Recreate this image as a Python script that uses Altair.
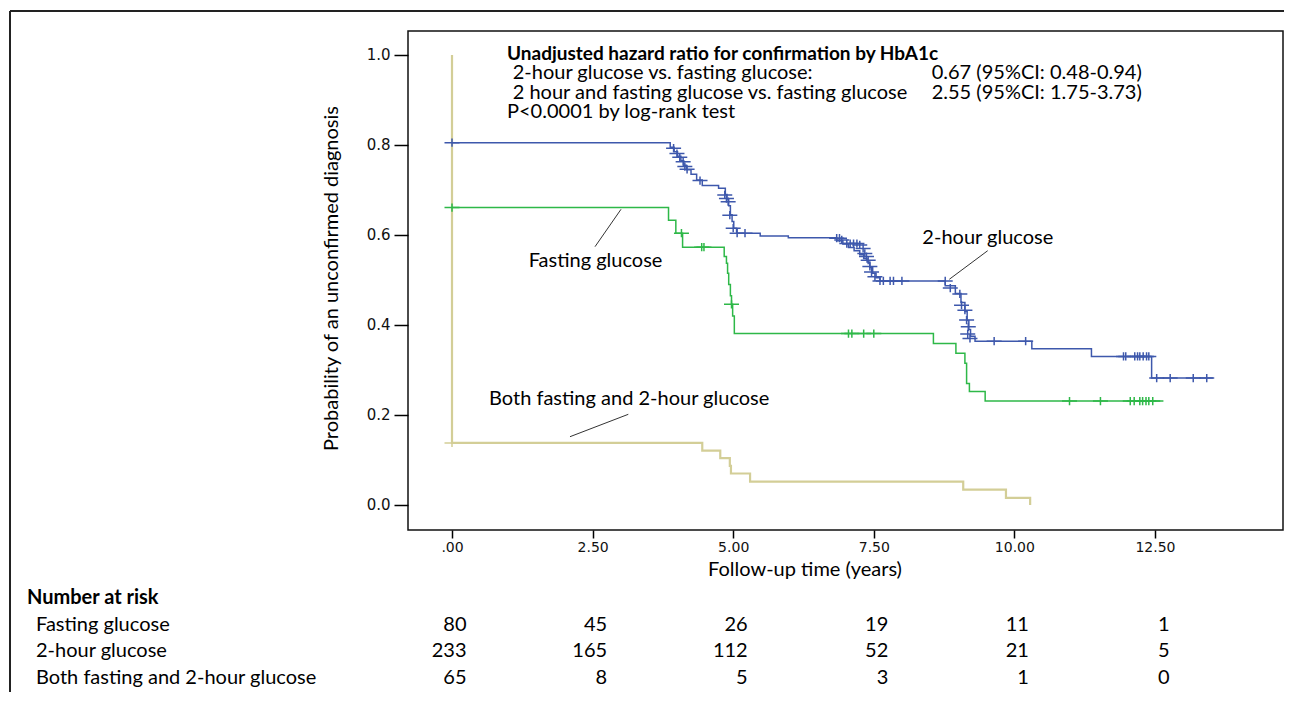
import altair as alt
import pandas as pd

# ---------------- data ----------------
# Kaplan-Meier step points (time in years, probability of unconfirmed diagnosis)
fasting_time = [0, 3.85, 3.98, 4.10, 4.84, 4.88, 4.90, 4.92, 4.95, 4.97, 4.99, 5.02,
                8.56, 8.96, 9.12, 9.15, 9.20, 9.48, 12.65]
fasting_surv = [0.661, 0.633, 0.604, 0.573, 0.552, 0.537, 0.515, 0.490, 0.465, 0.446, 0.420, 0.381,
                0.359, 0.337, 0.315, 0.270, 0.252, 0.231, 0.231]

two_hour_time = [0, 3.88, 3.95, 4.01, 4.07, 4.12, 4.17, 4.25, 4.35, 4.45,
                 4.74, 4.86, 4.89, 4.92, 4.95, 4.98, 5.01, 5.06, 5.48, 5.98,
                 6.84, 6.95, 7.05, 7.15, 7.25, 7.32, 7.38, 7.43, 7.48, 7.54,
                 7.61, 8.77, 8.95, 9.05, 9.12, 9.16, 9.19, 9.22, 9.30, 10.31,
                 11.37, 12.44, 13.53]
two_hour_surv = [0.805, 0.795, 0.785, 0.775, 0.765, 0.755, 0.745, 0.735, 0.722, 0.710,
                 0.704, 0.690, 0.680, 0.665, 0.645, 0.630, 0.615, 0.604, 0.598, 0.594,
                 0.587, 0.580, 0.572, 0.565, 0.556, 0.548, 0.540, 0.528, 0.515, 0.505,
                 0.498, 0.487, 0.470, 0.450, 0.430, 0.410, 0.390, 0.375, 0.364, 0.347,
                 0.330, 0.282, 0.282]

both_time = [0, 0, 4.45, 4.77, 4.94, 4.96, 5.30, 9.09, 9.85, 10.28]
both_surv = [1.0, 0.138, 0.121, 0.104, 0.087, 0.070, 0.052, 0.034, 0.016, 0.0]

# censoring marks
fasting_cens_time = [0, 4.08, 4.44, 4.48, 4.97, 7.05, 7.11, 7.32, 7.50,
                     10.98, 11.53, 12.06, 12.13, 12.23, 12.28, 12.34, 12.39, 12.46]
fasting_cens_surv = [0.661, 0.604, 0.573, 0.573, 0.446, 0.381, 0.381, 0.381, 0.381,
                     0.231, 0.231, 0.231, 0.231, 0.231, 0.231, 0.231, 0.231, 0.231]

two_hour_cens_time = [0, 3.94, 4.00, 4.05, 4.11, 4.14, 4.18, 4.41,
                      4.85, 4.88, 4.91, 4.94, 5.00, 5.07, 5.21,
                      6.84, 6.89, 6.93, 7.02, 7.08, 7.14, 7.20, 7.25, 7.31, 7.34, 7.37, 7.40, 7.43, 7.46, 7.52,
                      7.61, 7.67, 7.79, 7.85, 8.00, 8.77,
                      8.86, 9.03, 9.06, 9.12, 9.15, 9.18, 9.17, 9.21,
                      9.64, 10.20,
                      11.94, 11.98, 12.14, 12.19, 12.23, 12.29, 12.35, 12.39,
                      12.53, 12.77, 13.18, 13.42]
two_hour_cens_surv = [0.805, 0.793, 0.781, 0.773, 0.763, 0.752, 0.746, 0.721,
                      0.689, 0.681, 0.674, 0.644, 0.615, 0.604, 0.604,
                      0.593, 0.593, 0.589, 0.581, 0.581, 0.581, 0.581, 0.578, 0.570, 0.559, 0.552, 0.544, 0.530, 0.518, 0.507,
                      0.498, 0.498, 0.498, 0.498, 0.498, 0.498,
                      0.482, 0.469, 0.444, 0.433, 0.411, 0.396, 0.380, 0.370,
                      0.364, 0.364,
                      0.330, 0.330, 0.330, 0.330, 0.330, 0.330, 0.330, 0.330,
                      0.282, 0.282, 0.282, 0.282]

both_cens_time = [0]
both_cens_surv = [0.138]

# number at risk table
risk_times = [0, 2.5, 5.0, 7.5, 10.0, 12.5]
risk_fasting = [80, 45, 26, 19, 11, 1]
risk_two_hour = [233, 165, 112, 52, 21, 5]
risk_both = [65, 8, 5, 3, 1, 0]
risk_groups = ["Fasting glucose", "2-hour glucose", "Both fasting and 2-hour glucose"]

x_ticks = [0, 2.5, 5.0, 7.5, 10.0, 12.5]
y_ticks = [0.0, 0.2, 0.4, 0.6, 0.8, 1.0]

# ---------------- styling ----------------
BLUE = "#3E58AC"
GREEN = "#2EB848"
BEIGE = "#D3CE97"
FONT = "Lato"
TXT = 20
PLUS = "M-1,0L1,0M0,-0.55L0,0.55"

W, H = 875, 499

xenc = alt.X(
    "t:Q",
    scale=alt.Scale(domain=[-0.7824, 14.776], nice=False, zero=False),
    axis=alt.Axis(
        values=x_ticks,
        labelExpr="datum.value == 0 ? '.00' : format(datum.value, '.2f')",
        grid=False, domain=False, tickSize=8, tickWidth=1.5, tickColor="black",
        labelFont="DejaVu Sans", labelFontSize=14, labelColor="#111", labelPadding=2,
        title="Follow-up time (years)", titleFont=FONT, titleFontSize=TXT,
        titleFontWeight="normal", titleColor="black",
        titleX=396.5, titleY=39, titleAlign="center", titleBaseline="middle",
    ),
)
yenc = alt.Y(
    "s:Q",
    scale=alt.Scale(domain=[-0.0556, 1.0533], nice=False, zero=False),
    axis=alt.Axis(
        values=y_ticks, format=".1f",
        grid=False, domain=False, tickSize=14, tickWidth=1.5, tickColor="black",
        labelFont="DejaVu Sans", labelFontSize=15, labelColor="#111", labelPadding=4,
        title="Probability of an unconfirmed diagnosis", titleFont=FONT, titleFontSize=TXT,
        titleFontWeight="normal", titleColor="black",
        titleX=-77, titleY=247, titleAlign="center", titleBaseline="middle", titleAngle=270,
    ),
)


def km_line(times, survs, color, width):
    df = pd.DataFrame({"t": times, "s": survs, "i": list(range(len(times)))})
    return alt.Chart(df).mark_line(interpolate="step-after", color=color, strokeWidth=width).encode(
        x=xenc, y=yenc, order="i:Q")


def km_cens(times, survs, color):
    df = pd.DataFrame({"t": times, "s": survs})
    return alt.Chart(df).mark_point(shape=PLUS, size=225, filled=False, color=color,
                                    strokeWidth=1.5, opacity=1).encode(x=xenc, y=yenc)


ONE = alt.Data(values=[{"a": 1}])


def txt(text, x, y, weight="normal", align="left", baseline="alphabetic", size=TXT):
    return alt.Chart(ONE).mark_text(text=text, font=FONT, fontSize=size, fontWeight=weight,
                                    align=align, baseline=baseline, color="black").encode(
        x=alt.value(x), y=alt.value(y))


def seg(x1, y1, x2, y2, color="#333", width=1.0):
    return alt.Chart(ONE).mark_rule(color=color, strokeWidth=width).encode(
        x=alt.value(x1), y=alt.value(y1), x2=alt.value(x2), y2=alt.value(y2))


layers = [
    # outer frame (top and left edges)
    seg(-398, -20, 884, -20, color="#222", width=2),
    seg(-398, -20, -398, 700, color="#222", width=2),
    # curves
    km_line(both_time, both_surv, BEIGE, 2.2),
    km_line(two_hour_time, two_hour_surv, BLUE, 1.5),
    km_line(fasting_time, fasting_surv, GREEN, 1.5),
    km_cens(both_cens_time, both_cens_surv, BEIGE),
    km_cens(two_hour_cens_time, two_hour_cens_surv, BLUE),
    km_cens(fasting_cens_time, fasting_cens_surv, GREEN),
    # curve labels and leaders
    txt("Fasting glucose", 187.5, 235.7, align="center"),
    seg(213, 178.3, 187, 215.7),
    txt("2-hour glucose", 579.8, 213, align="center"),
    seg(579.7, 219.7, 541.3, 248.3),
    txt("Both fasting and 2-hour glucose", 221.2, 374, align="center"),
    seg(220.3, 383.3, 162, 405.7),
    # hazard ratio block
    txt("Unadjusted hazard ratio for confirmation by HbA1c", 99, 29, weight="bold", size=19),
    txt("2-hour glucose vs. fasting glucose:", 104.7, 48),
    txt("0.67 (95%CI: 0.48-0.94)", 523.7, 48),
    txt("2 hour and fasting glucose vs. fasting glucose", 104.7, 68),
    txt("2.55 (95%CI: 1.75-3.73)", 523.7, 68),
    txt("P<0.0001 by log-rank test", 99, 87),
    # number at risk table
    txt("Number at risk", -381, 567, weight="bold", baseline="middle"),
]

row_y = [593.6, 620.4, 647.0]
row_counts = [risk_fasting, risk_two_hour, risk_both]
for name, yy, counts in zip(risk_groups, row_y, row_counts):
    layers.append(txt(name, -372, yy, baseline="middle"))
    df = pd.DataFrame({"t": risk_times, "n": [str(c) for c in counts]})
    layers.append(
        alt.Chart(df).mark_text(font=FONT, fontSize=TXT, align="right", baseline="middle",
                                dx=14.5, color="black").encode(
            x=xenc, y=alt.value(yy), text="n:N")
    )

chart = alt.layer(*layers).properties(
    width=W, height=H,
    autosize=alt.AutoSizeParams(type="none"),
    padding={"left": 400, "top": 23, "right": 1, "bottom": 162},
).configure_view(stroke="#111", strokeWidth=1.5)

chart.save("out.html", embed_options={"renderer": "svg", "actions": False})
